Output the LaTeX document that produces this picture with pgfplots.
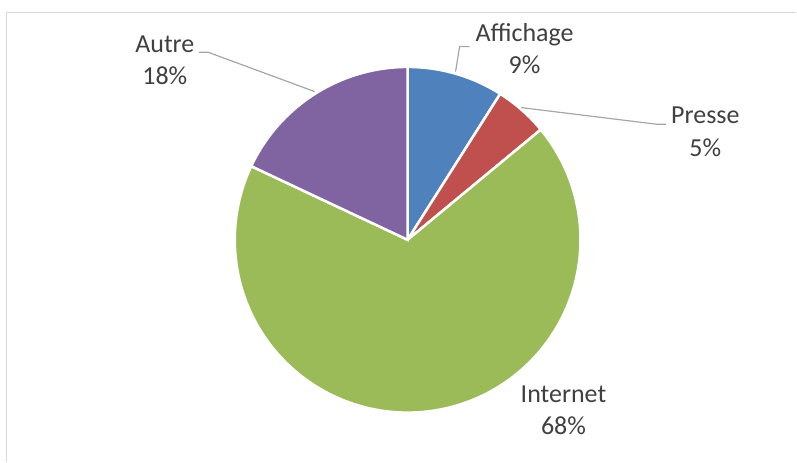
\documentclass[border=0pt]{standalone}
\usepackage{pgfplots}
\pgfplotsset{compat=1.18}
\usepackage{fontspec}
\setmainfont{Carlito}
\definecolor{cA}{HTML}{4F81BD}
\definecolor{cP}{HTML}{C0504D}
\definecolor{cI}{HTML}{9BBB59}
\definecolor{cO}{HTML}{8064A2}
\definecolor{txt}{HTML}{404040}
\definecolor{lead}{HTML}{A6A6A6}
\definecolor{frame}{HTML}{D9D9D9}
\newcommand\lf{\fontsize{26bp}{31.6bp}\selectfont}
\tikzset{lbl/.style={text=txt, inner sep=0pt, anchor=base}}
% shares in percent
\def\pAff{9}
\def\pPre{5}
\def\pInt{68}
\def\pAut{18}
\pgfmathsetmacro\aA{90}
\pgfmathsetmacro\aB{90-3.6*\pAff}
\pgfmathsetmacro\aC{\aB-3.6*\pPre}
\pgfmathsetmacro\aD{\aC-3.6*\pInt}
\pgfmathsetmacro\aE{\aD-3.6*\pAut}
\begin{document}
\begin{tikzpicture}
\begin{axis}[
  width=797bp, height=462bp, scale only axis,
  xmin=0, xmax=797, ymin=0, ymax=462,
  hide axis, clip=false,
]
\addplot[draw=none] coordinates {(0,0) (797,462)};
% frame
\addplot[draw=frame, line width=1.5bp] coordinates {(6.5,0) (6.5,449.5) (797,449.5)};
% slices
\addplot[fill=cA, draw=white, line width=2.5bp, domain=\aB:\aA, samples=40]
  ({408+173*cos(x)},{222+173*sin(x)}) -- (axis cs:408,222) -- cycle;
\addplot[fill=cP, draw=white, line width=2.5bp, domain=\aC:\aB, samples=30]
  ({408+173*cos(x)},{222+173*sin(x)}) -- (axis cs:408,222) -- cycle;
\addplot[fill=cI, draw=white, line width=2.5bp, domain=\aD:\aC, samples=150]
  ({408+173*cos(x)},{222+173*sin(x)}) -- (axis cs:408,222) -- cycle;
\addplot[fill=cO, draw=white, line width=2.5bp, domain=\aE:\aD, samples=50]
  ({408+173*cos(x)},{222+173*sin(x)}) -- (axis cs:408,222) -- cycle;
% leader lines
\addplot[draw=lead, line width=1.2bp] coordinates {(470,415.3) (460,415.3) (456,390.3)};
\addplot[draw=lead, line width=1.2bp] coordinates {(666.7,337.7) (656.7,337.7) (521.7,354.3)};
\addplot[draw=lead, line width=1.2bp] coordinates {(199,409.7) (208.3,409.7) (315,370.3)};
% labels
\node[lbl] at (axis cs:525,420.3) {\lf Affichage};
\node[lbl] at (axis cs:525,388.7) {\lf 9\%};
\node[lbl] at (axis cs:706,338.7) {\lf Presse};
\node[lbl] at (axis cs:706,305.3) {\lf 5\%};
\node[lbl] at (axis cs:165,409.7) {\lf Autre};
\node[lbl] at (axis cs:165,377) {\lf 18\%};
\node[lbl] at (axis cs:564,58.7) {\lf Internet};
\node[lbl] at (axis cs:564,27) {\lf 68\%};
\end{axis}
\end{tikzpicture}
\end{document}
